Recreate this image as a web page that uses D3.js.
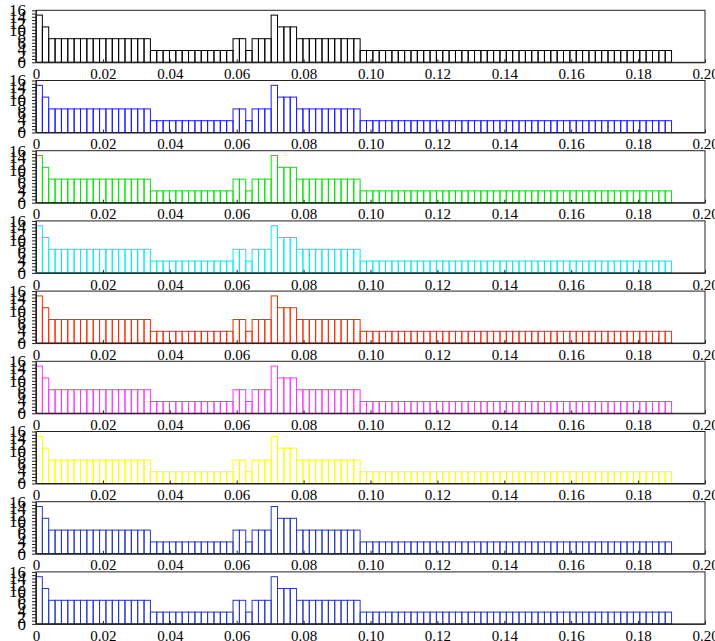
<!DOCTYPE html>
<html>
<head>
<meta charset="utf-8">
<script src="https://cdn.jsdelivr.net/npm/d3@7"></script>
<style>
  body { margin: 0; background: #fff; }
  svg { display: block; }
  .tick text { font-family: "Liberation Serif", "DejaVu Serif", serif; font-size: 15px; fill: #000; }
  .yaxis .tick text { font-size: 17px; }
</style>
</head>
<body>
<script>
// histogram data (same in every panel), density per bin
binWidth = 0.0019
density = [
  14.52, 10.89,
  7.26, 7.26, 7.26, 7.26, 7.26, 7.26, 7.26, 7.26, 7.26, 7.26, 7.26, 7.26, 7.26, 7.26, 7.26, 7.26,
  3.63, 3.63, 3.63, 3.63, 3.63, 3.63, 3.63, 3.63, 3.63, 3.63, 3.63, 3.63, 3.63,
  7.26, 7.26,
  3.63,
  7.26, 7.26, 7.26,
  14.52,
  10.89, 10.89, 10.89,
  7.26, 7.26, 7.26, 7.26, 7.26, 7.26, 7.26, 7.26, 7.26, 7.26,
  3.63, 3.63, 3.63, 3.63, 3.63, 3.63, 3.63, 3.63, 3.63, 3.63,
  3.63, 3.63, 3.63, 3.63, 3.63, 3.63, 3.63, 3.63, 3.63, 3.63,
  3.63, 3.63, 3.63, 3.63, 3.63, 3.63, 3.63, 3.63, 3.63, 3.63,
  3.63, 3.63, 3.63, 3.63, 3.63, 3.63, 3.63, 3.63, 3.63, 3.63,
  3.63, 3.63, 3.63, 3.63, 3.63, 3.63, 3.63, 3.63, 3.63
]
panelColors = ['#000000', '#1a1aff', '#00e600', '#00f0f0', '#ff2a00', '#ff33ff', '#ffff00', '#2638c0', '#2638c0']
xTicks = [0, 0.02, 0.04, 0.06, 0.08, 0.10, 0.12, 0.14, 0.16, 0.18, 0.20]
yTicks = [0, 2, 4, 6, 8, 10, 12, 14, 16]

function main(){
  w = 715
  h = 641
  left = 36
  right = 705
  top0 = 10.3
  panelH = 52
  step = 70.2

  svg = d3.select('body')
          .append('svg')
          .attr('width', w)
          .attr('height', h)

  xScale = d3.scaleLinear()
             .domain([0, 0.2])
             .range([left, right])

  bins = density.map((d, i) => ({ x0: i * binWidth, x1: (i + 1) * binWidth, v: d }))

  panelColors.forEach((col, k) => {
    let top = top0 + k * step
    let bottom = top + panelH

    let yScale = d3.scaleLinear()
                   .domain([0, 16])
                   .range([bottom, top])

    let g = svg.append('g')

    // bars
    g.selectAll('rect')
     .data(bins)
     .enter()
       .append('rect')
       .attr('x', d => xScale(d.x0))
       .attr('y', d => yScale(d.v))
       .attr('width', d => xScale(d.x1) - xScale(d.x0))
       .attr('height', d => yScale(0) - yScale(d.v))
       .attr('fill', 'none')
       .attr('stroke', col)
       .attr('stroke-width', 1)

    // frame
    g.append('rect')
     .attr('x', left)
     .attr('y', top)
     .attr('width', right - left)
     .attr('height', panelH)
     .attr('fill', 'none')
     .attr('stroke', '#222')
     .attr('stroke-width', 1)

    // axes
    let xAxis = d3.axisBottom(xScale)
                  .tickValues(xTicks)
                  .tickFormat(d => d === 0 ? '0' : d3.format('.2f')(d))
                  .tickSizeInner(-3)
                  .tickSizeOuter(0)
                  .tickPadding(6)

    let yAxis = d3.axisLeft(yScale)
                  .tickValues(d3.range(0, 17, 1))
                  .tickFormat(d => yTicks.includes(d) ? d : '')
                  .tickSizeInner(4)
                  .tickSizeOuter(0)
                  .tickPadding(6)

    g.append('g')
     .attr('transform', `translate(0, ${bottom})`)
     .call(xAxis)
     .call(a => a.select('.domain').attr('stroke', '#222'))
     .call(a => a.selectAll('.tick line').attr('stroke', '#222'))

    g.append('g')
     .attr('class', 'yaxis')
     .attr('transform', `translate(${left}, 0)`)
     .call(yAxis)
     .call(a => a.select('.domain').attr('stroke', '#222'))
     .call(a => a.selectAll('.tick line').attr('stroke', '#222'))
  })
}

main()
</script>
</body>
</html>
